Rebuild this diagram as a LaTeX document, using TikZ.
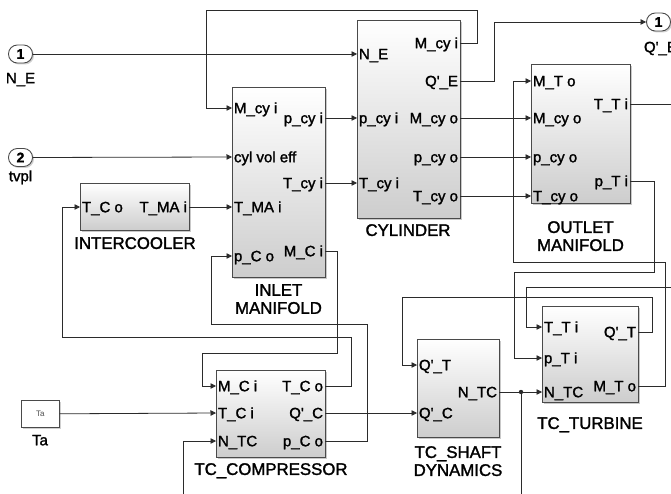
\documentclass[tikz,border=0pt]{standalone}
\usepackage{fontspec}
\newfontfamily\lsans{Liberation Sans}[FakeBold=1.6]
\newfontfamily\lsansplain{Liberation Sans}
\usetikzlibrary{arrows.meta,shadows}
\definecolor{ln}{HTML}{2B2B2B}
\definecolor{bd}{HTML}{4A4A4A}
\definecolor{bot}{HTML}{CDCDCD}
\tikzset{
 blk/.style={draw=bd, line width=0.9pt, top color=white, bottom color=bot, inner sep=0pt, outer sep=0pt, anchor=north west,
   drop shadow={shadow xshift=2pt, shadow yshift=-2pt, opacity=0.35, fill=black!60}},
 plab/.style={inner xsep=2pt, inner ysep=0pt, outer sep=0pt, text height=10.5pt, text depth=0pt, font=\lsans\fontsize{15}{16}\selectfont, text=black},
 ilab/.style={plab, anchor=west},
 olab/.style={plab, anchor=east},
 bname/.style={font=\lsans\fontsize{16.8}{18}\selectfont, align=center, inner sep=0pt, anchor=north},
 wire/.style={draw=ln, line width=0.8pt},
 arr/.style={wire, -{Triangle[length=5.5pt,width=5.5pt]}},
 ioport/.style={draw=bd, line width=0.9pt, fill=white, rounded corners=8.9pt, minimum width=24pt, minimum height=18pt, inner sep=0pt,
   font=\lsans\bfseries\fontsize{14}{14}\selectfont, drop shadow={shadow xshift=1.5pt, shadow yshift=-1.5pt, opacity=0.3, fill=black!60}},
}
\begin{document}
\begin{tikzpicture}[x=1pt,y=-1pt]
\useasboundingbox (0,0) rectangle (671,494);
\fill[white] (0,0) rectangle (671,494);
\clip (0,0) rectangle (671,494);
% blocks
\node[blk, minimum width=109pt, minimum height=47pt] (ic) at (80,183) {};
\node[blk, minimum width=93pt, minimum height=190pt] (inlet) at (232,87) {};
\node[blk, minimum width=103pt, minimum height=198pt] (cyl) at (357,20) {};
\node[blk, minimum width=99pt, minimum height=139pt] (outl) at (531,64) {};
\node[blk, minimum width=109pt, minimum height=87pt] (comp) at (216,370) {};
\node[blk, minimum width=82pt, minimum height=98pt] (shaft) at (417,339) {};
\node[blk, minimum width=96pt, minimum height=96pt] (turb) at (542,306) {};
\node[draw=bd, fill=white, line width=0.6pt, anchor=north west, minimum width=38pt, minimum height=27pt, inner sep=0pt,
  font=\lsansplain\fontsize{8}{8}\selectfont, text=black!70, drop shadow={shadow xshift=1.5pt, shadow yshift=-1.5pt, opacity=0.3, fill=black!60}] (ta) at (21,400) {Ta};
% inports / outport
\node[ioport] (in1) at (20.5,54) {1};
\node[ioport] (in2) at (20.5,157.5) {2};
\node[ioport] (out1) at (658.5,22) {1};
\node[plab] (in1-n) at (20.5,78) {N\_E};
\node[plab] (in2-n) at (20.5,176) {tvpl};
\node[plab, anchor=west, inner xsep=0pt] (out1-n) at (644,47) {Q'\_E};
\node[plab] (ta-n) at (40,440) {Ta};
% port labels
\node[ilab] (ic-i) at (80,207) {T\_C o};
\node[olab] (ic-o) at (189,207) {T\_MA i};
\node[ilab] (in-i1) at (232,108) {M\_cy i};
\node[ilab] (in-i2) at (232,157) {cyl vol eff};
\node[ilab] (in-i3) at (232,207) {T\_MA i};
\node[ilab] (in-i4) at (232,256) {p\_C o};
\node[olab] (in-o1) at (325,118) {p\_cy i};
\node[olab] (in-o2) at (325,183) {T\_cy i};
\node[olab] (in-o3) at (325,251) {M\_C i};
\node[ilab] (cyl-i1) at (357,54) {N\_E};
\node[ilab] (cyl-i2) at (357,118) {p\_cy i};
\node[ilab] (cyl-i3) at (357,183) {T\_cy i};
\node[olab] (cyl-o1) at (460,43) {M\_cy i};
\node[olab] (cyl-o2) at (460,81) {Q'\_E};
\node[olab] (cyl-o3) at (460,118) {M\_cy o};
\node[olab] (cyl-o4) at (460,157) {p\_cy o};
\node[olab] (cyl-o5) at (460,196) {T\_cy o};
\node[ilab] (outl-i1) at (531,81) {M\_T o};
\node[ilab] (outl-i2) at (531,118) {M\_cy o};
\node[ilab] (outl-i3) at (531,157) {p\_cy o};
\node[ilab] (outl-i4) at (531,196) {T\_cy o};
\node[olab] (outl-o1) at (630,104) {T\_T i};
\node[olab] (outl-o2) at (630,181) {p\_T i};
\node[ilab] (comp-i1) at (216,386) {M\_C i};
\node[ilab] (comp-i2) at (216,413) {T\_C i};
\node[ilab] (comp-i3) at (216,441) {N\_TC};
\node[olab] (comp-o1) at (325,386) {T\_C o};
\node[olab] (comp-o2) at (325,413) {Q'\_C};
\node[olab] (comp-o3) at (325,441) {p\_C o};
\node[ilab] (sh-i1) at (417,365) {Q'\_T};
\node[ilab] (sh-i2) at (417,413) {Q'\_C};
\node[olab] (sh-o1) at (499,392) {N\_TC};
\node[ilab] (turb-i1) at (542,327) {T\_T i};
\node[ilab] (turb-i2) at (542,358) {p\_T i};
\node[ilab] (turb-i3) at (542,392) {N\_TC};
\node[olab] (turb-o1) at (638,332) {Q'\_T};
\node[olab] (turb-o2) at (638,386) {M\_T o};
% block names
\node[bname] (ic-n) at (135,237) {INTERCOOLER};
\node[bname] (in-n) at (278.5,284) {INLET\\MANIFOLD};
\node[bname] (cyl-n) at (408,224) {CYLINDER};
\node[bname] (outl-n) at (580.5,221) {OUTLET\\MANIFOLD};
\node[bname] (comp-n) at (271,463) {TC\_COMPRESSOR};
\node[bname] (sh-n) at (458,446) {TC\_SHAFT\\DYNAMICS};
\node[bname] (turb-n) at (590,417) {TC\_TURBINE};
% free ends
\coordinate (eR1) at (672,104);
\coordinate (eR2) at (672,287);
\coordinate (jb) at (521,495);
\coordinate (nb) at (183,495);
\coordinate (j) at (521,392);
% wires
\draw[arr] (in1.east) -- (cyl-i1.west);
\draw[arr] (in2.east) -- (in-i2.west);
\draw[arr] (cyl-o1.east) -| (477,10) -| (206,108) -- (in-i1.west);
\draw[arr] (cyl-o2.east) -| (494,22) -- (out1.west);
\draw[arr] (in-o1.east) -- (cyl-i2.west);
\draw[arr] (in-o2.east) -- (cyl-i3.west);
\draw[arr] (cyl-o3.east) -- (outl-i2.west);
\draw[arr] (cyl-o4.east) -- (outl-i3.west);
\draw[arr] (cyl-o5.east) -- (outl-i4.west);
\draw[wire] (outl-o1.east) -- (eR1);
\draw[arr] (eR2) -| (526,327) -- (turb-i1.west);
\draw[arr] (outl-o2.east) -| (654,272) -| (514,358) -- (turb-i2.west);
\draw[arr] (turb-o2.east) -| (665,262) -| (513,81) -- (outl-i1.west);
\draw[arr] (turb-o1.east) -| (652,297) -| (402,365) -- (sh-i1.west);
\draw[arr] (sh-o1.east) -- (turb-i3.west);
\draw[wire] (j) -- (jb);
\fill[ln] (j) circle (2.2);
\draw[arr] (comp-o2.east) -- (sh-i2.west);
\draw[arr] (comp-o1.east) -| (351,337) -| (62,207) -- (ic-i.west);
\draw[arr] (comp-o3.east) -| (367,324) -| (211,256) -- (in-i4.west);
\draw[arr] (in-o3.east) -| (337,353) -| (202,386) -- (comp-i1.west);
\draw[arr] (ta.east) -- (comp-i2.west);
\draw[arr] (nb) |- (comp-i3.west);
\draw[arr] (ic-o.east) -- (in-i3.west);
\end{tikzpicture}
\end{document}
